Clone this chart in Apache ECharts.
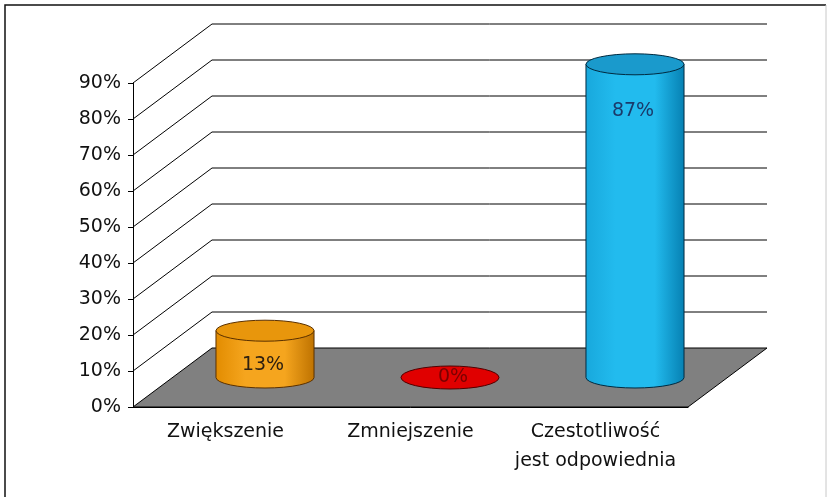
<!DOCTYPE html>
<html>
<head>
<meta charset="utf-8">
<script src="https://cdn.jsdelivr.net/npm/echarts@6/dist/echarts.min.js"></script>
<style>
  html, body { margin: 0; padding: 0; background: #fff; }
  #chart { width: 832px; height: 497px; }
</style>
</head>
<body>
<div id="chart"></div>
<script>
// dane wykresu
var categories = ['Zwiększenie', 'Zmniejszenie', 'Czestotliwość\njest odpowiednia'];
var values = [13, 0, 87];
var yTicks = [0, 10, 20, 30, 40, 50, 60, 70, 80, 90];

// kolory walców: [jasny, srodek, ciemny, gora, obrys, etykieta]
var palette = [
  ['#E28C00', '#F5A51E', '#BE7200', '#E8960C', '#5A3000', '#2E2010'],
  ['#D00000', '#E00000', '#A00000', '#E00000', '#500000', '#7A0000'],
  ['#18A8DC', '#22BBEE', '#0680B2', '#1A9ACC', '#002A40', '#1A3A6A']
];

// przesuniecie glebokosci (efekt 3D)
var DX = 79, DY = -59;
var FONT = 'DejaVu Sans';

function renderWall(params, api) {
  var cs = params.coordSys;
  var v = api.value(1);
  var y = api.coord([0, v])[1];
  var x0 = cs.x, x1 = cs.x + cs.width;
  if (v === 0) {
    return {
      type: 'polygon',
      shape: { points: [[x0, y], [x0 + DX, y + DY], [x1 + DX, y + DY], [x1, y]] },
      style: { fill: '#808080', stroke: '#000', lineWidth: 1 }
    };
  }
  return {
    type: 'group',
    children: [
      { type: 'line', shape: { x1: x0, y1: y, x2: x0 + DX, y2: y + DY }, style: { stroke: '#000', lineWidth: 1 } },
      { type: 'line', shape: { x1: x0 + DX, y1: y + DY, x2: x1 + DX, y2: y + DY }, style: { stroke: '#000', lineWidth: 1 } }
    ]
  };
}

function renderCylinder(params, api) {
  var i = api.value(0), v = api.value(1);
  var c = palette[i];
  var base = api.coord([i, 0]);
  var top = api.coord([i, v]);
  var bw = api.size([1, 0])[0];
  var rx = bw * 0.265, ry = v > 0 ? 10.5 : 11.5;
  var cx = base[0] + DX / 2;
  var yb = base[1] + DY / 2;
  var yt = top[1] + DY / 2;
  var xl = cx - rx, xr = cx + rx;
  var ellipse = 'M' + xl + ' ' + yt + ' A' + rx + ' ' + ry + ' 0 1 0 ' + xr + ' ' + yt +
    ' A' + rx + ' ' + ry + ' 0 1 0 ' + xl + ' ' + yt + ' Z';
  var children = [];
  if (v > 0) {
    children.push({
      type: 'path',
      shape: {
        pathData: 'M' + xl + ' ' + yt + ' L' + xl + ' ' + yb + ' A' + rx + ' ' + ry + ' 0 0 0 ' + xr + ' ' + yb +
          ' L' + xr + ' ' + yt + ' Z'
      },
      style: {
        fill: new echarts.graphic.LinearGradient(0, 0, 1, 0, [
          { offset: 0, color: c[0] },
          { offset: 0.3, color: c[1] },
          { offset: 0.7, color: c[1] },
          { offset: 1, color: c[2] }
        ]),
        stroke: c[4], lineWidth: 1
      }
    });
  }
  children.push({
    type: 'path',
    shape: { pathData: ellipse },
    style: { fill: c[3], stroke: c[4], lineWidth: 1 }
  });
  var ly = v > 0 ? Math.min((yt + yb) / 2 + ry, yt + 47) : yt;
  children.push({
    type: 'text',
    style: {
      text: v + '%', x: cx + (v > 0 ? -2 : 3), y: ly,
      align: 'center', verticalAlign: 'middle',
      fontSize: 19, fontFamily: FONT, fill: c[5]
    }
  });
  return { type: 'group', children: children };
}

var chart = echarts.init(document.getElementById('chart'));
var option = {
  backgroundColor: '#fff',
  animation: false,
  graphic: [
    { type: 'polyline', shape: { points: [[5, 497], [5, 5], [826, 5]] }, style: { stroke: '#111', lineWidth: 1.5, fill: null } },
    { type: 'line', shape: { x1: 826, y1: 5, x2: 826, y2: 497 }, style: { stroke: '#c8c8c8', lineWidth: 1 } }
  ],
  grid: { left: 133, top: 83, width: 555, height: 324, containLabel: false },
  xAxis: {
    type: 'category',
    data: categories,
    axisLine: { lineStyle: { color: '#000', width: 1 } },
    axisTick: { length: 5, lineStyle: { color: '#000' } },
    axisLabel: { interval: 0, color: '#111', fontSize: 19, fontFamily: FONT, lineHeight: 29, margin: 11 },
    splitLine: { show: false }
  },
  yAxis: {
    type: 'value',
    min: 0, max: 90, interval: 10,
    axisLine: { show: true, lineStyle: { color: '#000', width: 1 } },
    axisTick: { show: true, length: 5, lineStyle: { color: '#000' } },
    axisLabel: { formatter: '{value}%', color: '#111', fontSize: 19, fontFamily: FONT, margin: 12 },
    splitLine: { show: false }
  },
  series: [
    {
      type: 'custom',
      z: 1,
      silent: true,
      renderItem: renderWall,
      data: yTicks.map(function (t) { return [0, t]; })
    },
    {
      type: 'custom',
      z: 3,
      renderItem: renderCylinder,
      data: values.map(function (v, i) { return [i, v]; })
    }
  ]
};
chart.setOption(option);
</script>
</body>
</html>
